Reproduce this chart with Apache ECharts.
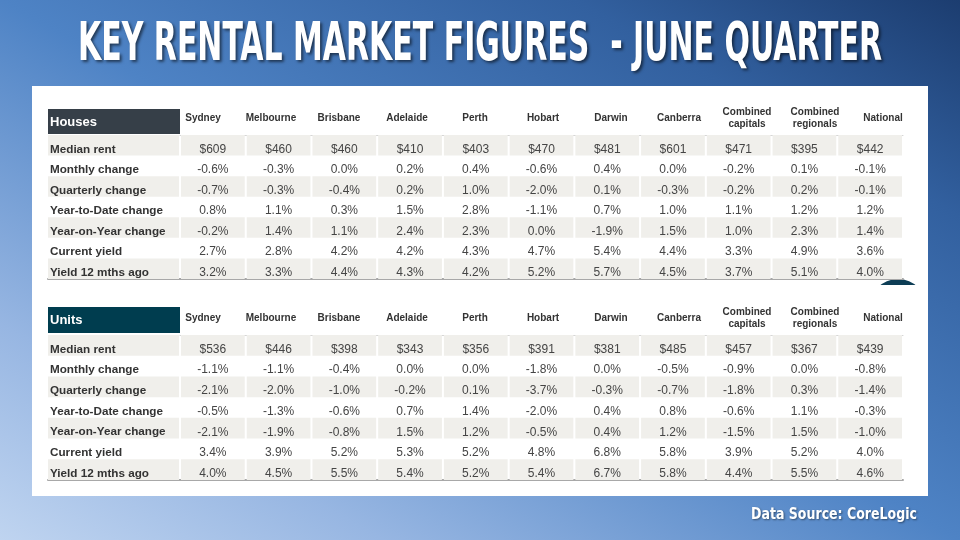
<!DOCTYPE html>
<html>
<head>
<meta charset="utf-8">
<script src="https://cdn.jsdelivr.net/npm/echarts@6/dist/echarts.min.js"></script>
<style>
  html, body { margin: 0; padding: 0; }
  #chart { width: 960px; height: 540px; }
</style>
</head>
<body>
<div id="chart"></div>
<script>
// column headers and row labels
const columns = ['Sydney', 'Melbourne', 'Brisbane', 'Adelaide', 'Perth', 'Hobart', 'Darwin', 'Canberra',
  'Combined\ncapitals', 'Combined\nregionals', 'National']
const rowLabels = ['Median rent', 'Monthly change', 'Quarterly change', 'Year-to-Date change',
  'Year-on-Year change', 'Current yield', 'Yield 12 mths ago']

// houses
const housesMedianRent = [609, 460, 460, 410, 403, 470, 481, 601, 471, 395, 442]
const housesMonthly = [-0.6, -0.3, 0.0, 0.2, 0.4, -0.6, 0.4, 0.0, -0.2, 0.1, -0.1]
const housesQuarterly = [-0.7, -0.3, -0.4, 0.2, 1.0, -2.0, 0.1, -0.3, -0.2, 0.2, -0.1]
const housesYtd = [0.8, 1.1, 0.3, 1.5, 2.8, -1.1, 0.7, 1.0, 1.1, 1.2, 1.2]
const housesYoy = [-0.2, 1.4, 1.1, 2.4, 2.3, 0.0, -1.9, 1.5, 1.0, 2.3, 1.4]
const housesYield = [2.7, 2.8, 4.2, 4.2, 4.3, 4.7, 5.4, 4.4, 3.3, 4.9, 3.6]
const housesYieldAgo = [3.2, 3.3, 4.4, 4.3, 4.2, 5.2, 5.7, 4.5, 3.7, 5.1, 4.0]

// units
const unitsMedianRent = [536, 446, 398, 343, 356, 391, 381, 485, 457, 367, 439]
const unitsMonthly = [-1.1, -1.1, -0.4, 0.0, 0.0, -1.8, 0.0, -0.5, -0.9, 0.0, -0.8]
const unitsQuarterly = [-2.1, -2.0, -1.0, -0.2, 0.1, -3.7, -0.3, -0.7, -1.8, 0.3, -1.4]
const unitsYtd = [-0.5, -1.3, -0.6, 0.7, 1.4, -2.0, 0.4, 0.8, -0.6, 1.1, -0.3]
const unitsYoy = [-2.1, -1.9, -0.8, 1.5, 1.2, -0.5, 0.4, 1.2, -1.5, 1.5, -1.0]
const unitsYield = [3.4, 3.9, 5.2, 5.3, 5.2, 4.8, 6.8, 5.8, 3.9, 5.2, 4.0]
const unitsYieldAgo = [4.0, 4.5, 5.5, 5.4, 5.2, 5.4, 6.7, 5.8, 4.4, 5.5, 4.6]

const housesRows = [housesMedianRent, housesMonthly, housesQuarterly, housesYtd, housesYoy, housesYield, housesYieldAgo]
const unitsRows = [unitsMedianRent, unitsMonthly, unitsQuarterly, unitsYtd, unitsYoy, unitsYield, unitsYieldAgo]

const BAND = '#f0efeb'
const FONT = '"Liberation Sans", Arial, sans-serif'

function fmt(r, v) {
  return r === 0 ? '$' + v : v.toFixed(1) + '%'
}

function cellData(rows) {
  const out = []
  rows.forEach((vals, r) => vals.forEach((v, c) => out.push([c, r, fmt(r, v)])))
  return out
}

function valueSeries(rows, xi, yi) {
  const data = cellData(rows)
  return {
    type: 'custom',
    xAxisIndex: xi,
    yAxisIndex: yi,
    silent: true,
    data: data.map((d) => [d[0], d[1]]),
    renderItem(params, api) {
      const c = api.value(0)
      const r = api.value(1)
      const p = api.coord([c, r])
      const s = api.size([1, 1])
      const children = []
      if (r % 2 === 0) {
        children.push({
          type: 'rect',
          shape: { x: p[0] - s[0] / 2 + 1, y: p[1] - s[1] / 2, width: s[0] - 2, height: s[1] },
          style: { fill: BAND }
        })
      }
      children.push({
        type: 'text',
        style: {
          x: p[0], y: p[1] + 4,
          text: data[params.dataIndex][2],
          font: '12px ' + FONT,
          fill: '#454545',
          align: 'center', verticalAlign: 'middle',
          textAlign: 'center', textVerticalAlign: 'middle'
        }
      })
      return { type: 'group', children }
    }
  }
}

function labelSeries(xi, yi) {
  return {
    type: 'custom',
    xAxisIndex: xi,
    yAxisIndex: yi,
    silent: true,
    data: rowLabels.map((_, r) => [0, r]),
    renderItem(params, api) {
      const r = api.value(1)
      const p = api.coord([0, r])
      const s = api.size([1, 1])
      const children = []
      if (r % 2 === 0) {
        children.push({
          type: 'rect',
          shape: { x: p[0] - s[0] / 2, y: p[1] - s[1] / 2, width: s[0] - 1, height: s[1] },
          style: { fill: BAND }
        })
      }
      children.push({
        type: 'text',
        style: {
          x: p[0] - s[0] / 2 + 2, y: p[1] + 4,
          text: rowLabels[r],
          font: 'bold 11.7px ' + FONT,
          fill: '#333',
          align: 'left', verticalAlign: 'middle',
          textAlign: 'left', textVerticalAlign: 'middle'
        }
      })
      return { type: 'group', children }
    }
  }
}

// squeeze a text to a target width
function fitScale(text, font, width) {
  const ctx = document.createElement('canvas').getContext('2d')
  ctx.font = font
  return width / ctx.measureText(text).width
}

const titleText = 'KEY RENTAL MARKET FIGURES  - JUNE QUARTER'
const titleFont = 'bold 53px "Liberation Sans Narrow", "DejaVu Sans Condensed", sans-serif'
const sourceText = 'Data Source: CoreLogic'
const sourceFont = 'bold 15px "DejaVu Sans Condensed", "Liberation Sans", sans-serif'

// one table = header grid + label grid + values grid
const tables = [
  { top: 135, height: 144, headTop: 118, rows: housesRows },
  { top: 335, height: 145, headTop: 318, rows: unitsRows }
]

const grid = []
const xAxis = []
const yAxis = []
const series = []

tables.forEach((t) => {
  const g = grid.length
  grid.push({ left: 169, width: 748, top: t.headTop, height: 10 })
  grid.push({ left: 48, width: 132, top: t.top, height: t.height })
  grid.push({ left: 180, width: 723, top: t.top, height: t.height })

  xAxis.push({
    gridIndex: g, type: 'category', data: columns, position: 'top',
    axisLine: { show: false }, axisTick: { show: false },
    axisLabel: {
      margin: 0, verticalAlign: 'middle', interval: 0, lineHeight: 12,
      color: '#333', fontWeight: 'bold', fontSize: 10, fontFamily: FONT
    }
  })
  yAxis.push({ gridIndex: g, type: 'value', show: false })

  const xl = xAxis.length
  xAxis.push({
    gridIndex: g + 1, type: 'category', data: [''],
    axisLine: { lineStyle: { color: '#a8a8a8', width: 2 } },
    axisTick: { show: false }, axisLabel: { show: false }
  })
  const yl = yAxis.length
  yAxis.push({ gridIndex: g + 1, type: 'category', data: rowLabels, inverse: true, show: false })

  const xv = xAxis.length
  xAxis.push({
    gridIndex: g + 2, type: 'category', data: columns,
    axisLine: { lineStyle: { color: '#a8a8a8', width: 2 } },
    axisTick: { show: false }, axisLabel: { show: false }
  })
  xAxis.push({
    gridIndex: g + 2, type: 'category', data: columns, position: 'top',
    axisLine: { lineStyle: { color: '#d6d6d6', width: 1 } },
    axisTick: { show: false }, axisLabel: { show: false }
  })
  const yv = yAxis.length
  yAxis.push({ gridIndex: g + 2, type: 'category', data: rowLabels, inverse: true, show: false })

  series.push(labelSeries(xl, yl))
  series.push(valueSeries(t.rows, xv, yv))
})

const chart = echarts.init(document.getElementById('chart'), null, { renderer: 'canvas' })

chart.setOption({
  animation: false,
  // isolines run parallel to the top-left / bottom-right diagonal
  backgroundColor: {
    type: 'linear', global: true, x: 249, y: 680, x2: 711, y2: -140,
    colorStops: [
      { offset: 0, color: '#bfd4f0' },
      { offset: 0.2, color: '#97b6e2' },
      { offset: 0.5, color: '#4e83c5' },
      { offset: 0.8, color: '#32609f' },
      { offset: 1, color: '#1c3d70' }
    ]
  },
  graphic: [
    { type: 'rect', z: -10, shape: { x: 32, y: 86, width: 896, height: 410 }, style: { fill: '#fff' } },
    { type: 'circle', z: -9, shape: { cx: 898, cy: 308, r: 29 }, style: { fill: '#0d3d55' } },
    { type: 'rect', z: -8, shape: { x: 40, y: 285, width: 888, height: 62 }, style: { fill: '#fff' } },
    { type: 'rect', z: 5, shape: { x: 48, y: 109, width: 132, height: 25 }, style: { fill: '#363f48' } },
    { type: 'rect', z: 5, shape: { x: 48, y: 307, width: 132, height: 26 }, style: { fill: '#003d4f' } },
    {
      type: 'text', z: 6, x: 50, y: 122,
      style: { text: 'Houses', font: 'bold 13px ' + FONT, fill: '#fff', align: 'left', verticalAlign: 'middle', textAlign: 'left', textVerticalAlign: 'middle' }
    },
    {
      type: 'text', z: 6, x: 50, y: 320,
      style: { text: 'Units', font: 'bold 13px ' + FONT, fill: '#fff', align: 'left', verticalAlign: 'middle', textAlign: 'left', textVerticalAlign: 'middle' }
    },
    {
      type: 'text', z: 20, x: 480, y: 46, scaleX: fitScale(titleText, titleFont, 804),
      style: {
        text: titleText, font: titleFont, fill: '#fff',
        align: 'center', verticalAlign: 'middle', textAlign: 'center', textVerticalAlign: 'middle',
        textShadowColor: 'rgba(0,0,0,0.55)', textShadowBlur: 3, textShadowOffsetX: 2, textShadowOffsetY: 2
      }
    },
    {
      type: 'text', z: 20, x: 917, y: 515, scaleX: fitScale(sourceText, sourceFont, 166),
      style: {
        text: sourceText, font: sourceFont, fill: '#fff',
        align: 'right', verticalAlign: 'middle', textAlign: 'right', textVerticalAlign: 'middle',
        textShadowColor: 'rgba(0,0,0,0.45)', textShadowBlur: 2, textShadowOffsetX: 1, textShadowOffsetY: 1
      }
    }
  ],
  grid,
  xAxis,
  yAxis,
  series
})
</script>
</body>
</html>
